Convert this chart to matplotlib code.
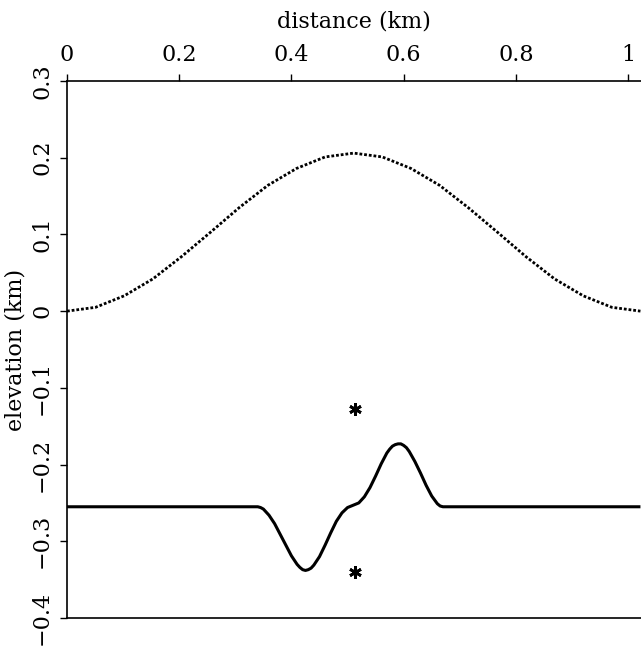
import matplotlib
matplotlib.use("Agg")
import matplotlib.pyplot as plt

# dotted curve (upper surface)
top_x = [0.0, 0.051, 0.102, 0.153, 0.204, 0.256, 0.307, 0.358, 0.409, 0.460, 0.511,
         0.562, 0.613, 0.664, 0.715, 0.767, 0.818, 0.869, 0.920, 0.971, 1.022]
top_y = [0.0, 0.005, 0.020, 0.042, 0.071, 0.103, 0.135, 0.164, 0.186, 0.201, 0.206,
         0.201, 0.186, 0.164, 0.135, 0.103, 0.071, 0.042, 0.020, 0.005, 0.0]

# solid curve (reflector)
ref_x = [0.0, 0.340, 0.345, 0.350, 0.360, 0.370, 0.380, 0.390, 0.400, 0.410, 0.415, 0.420,
         0.425, 0.430, 0.435, 0.440, 0.450, 0.460, 0.470, 0.480, 0.490, 0.500, 0.510,
         0.520, 0.530, 0.540, 0.550, 0.560, 0.570, 0.575, 0.580, 0.585, 0.590, 0.595,
         0.600, 0.605, 0.610, 0.620, 0.630, 0.640, 0.650, 0.660, 0.665, 0.670, 1.022]
ref_y = [-0.255, -0.255, -0.256, -0.258, -0.266, -0.277, -0.291, -0.305, -0.319, -0.330,
         -0.334, -0.337, -0.338, -0.337, -0.335, -0.331, -0.320, -0.305, -0.289, -0.274,
         -0.263, -0.256, -0.253, -0.250, -0.242, -0.230, -0.215, -0.199, -0.185, -0.180,
         -0.176, -0.174, -0.173, -0.173, -0.175, -0.178, -0.183, -0.196, -0.211, -0.227,
         -0.241, -0.251, -0.254, -0.255, -0.255]

# the two stars
star_x = [0.513, 0.513]
star_y = [-0.128, -0.340]

xticks = [0, 0.2, 0.4, 0.6, 0.8, 1.0]
xticklabels = ["0", "0.2", "0.4", "0.6", "0.8", "1"]
yticks = [0.3, 0.2, 0.1, 0, -0.1, -0.2, -0.3, -0.4]
yticklabels = ["0.3", "0.2", "0.1", "0", "\u22120.1", "\u22120.2", "\u22120.3", "\u22120.4"]

plt.rcParams['font.family'] = ['DejaVu Serif']

fig = plt.figure(figsize=(6.41, 6.46), dpi=100)
ax = fig.add_axes([67/641, 1 - 618/646, 1 - 67/641, (618 - 81)/646])

ax.plot(top_x, top_y, color="black", linewidth=2.0, linestyle=(0, (1.0, 0.7)))
ax.plot(ref_x, ref_y, color="black", linewidth=2.2, solid_capstyle="butt",
        solid_joinstyle="round")
ax.plot(star_x, star_y, linestyle="none", marker=(6, 2, 0), markersize=9,
        markeredgewidth=2.0, color="black")

ax.set_xlim(0, 1.023)
ax.set_ylim(-0.4, 0.3)

ax.xaxis.tick_top()
ax.xaxis.set_label_position("top")
ax.set_xticks(xticks)
ax.set_xticklabels(xticklabels)
ax.set_yticks(yticks)
ax.set_yticklabels(yticklabels)

ax.tick_params(axis="both", direction="out", length=5, width=1.0, labelsize=16, pad=6)
ax.tick_params(axis="y", labelrotation=90, pad=5)
for lab in ax.get_yticklabels():
    lab.set_va("center")

ax.set_xlabel("distance (km)", fontsize=16, labelpad=12)
ax.set_ylabel("elevation (km)", fontsize=16, labelpad=3)

ax.spines["right"].set_visible(False)
for s in ["left", "top", "bottom"]:
    ax.spines[s].set_linewidth(1.2)

fig.savefig("out.png", dpi=100)
